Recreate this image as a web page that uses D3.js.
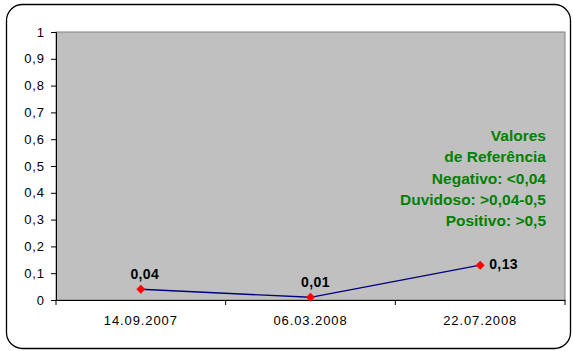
<!DOCTYPE html>
<html>
<head>
<meta charset="utf-8">
<script src="https://cdn.jsdelivr.net/npm/d3@7/dist/d3.min.js"></script>
<style>
  html, body { margin: 0; padding: 0; background: #fff; }
  svg { display: block; }
  text { font-family: "Liberation Sans", Arial, sans-serif; }
</style>
</head>
<body>
<svg id="chart" width="573" height="351"></svg>
<script>
// Test dates and measured values
const dates = ["14.09.2007", "06.03.2008", "22.07.2008"];
const values = [0.04, 0.01, 0.13];
const valueLabels = ["0,04", "0,01", "0,13"];

// Y axis ticks and their labels
const yTicks = [0, 0.1, 0.2, 0.3, 0.4, 0.5, 0.6, 0.7, 0.8, 0.9, 1];
const yTickLabels = ["0", "0,1", "0,2", "0,3", "0,4", "0,5", "0,6", "0,7", "0,8", "0,9", "1"];

// Reference ranges note
const refLines = ["Valores", "de Referência", "Negativo: <0,04", "Duvidoso: >0,04-0,5", "Positivo: >0,5"];

const svg = d3.select("#chart");
const plot = { left: 56, top: 32, right: 565, bottom: 300 };

// Outer rounded frame
svg.append("rect")
  .attr("x", 6.5).attr("y", 4.5)
  .attr("width", 564).attr("height", 344)
  .attr("rx", 16).attr("ry", 16)
  .attr("fill", "#fff")
  .attr("stroke", "#000")
  .attr("stroke-width", 1.3);

const x = d3.scaleBand().domain(dates).range([plot.left, plot.right]);
const y = d3.scaleLinear().domain([0, 1]).range([plot.bottom, plot.top]);

// Plot area
svg.append("rect")
  .attr("x", plot.left).attr("y", plot.top)
  .attr("width", plot.right - plot.left).attr("height", plot.bottom - plot.top)
  .attr("fill", "#c0c0c0")
  .attr("stroke", "#808080")
  .attr("stroke-width", 1);

// Y axis
const yAxis = d3.axisLeft(y)
  .tickValues(yTicks)
  .tickFormat((d, i) => yTickLabels[i])
  .tickSize(5)
  .tickPadding(6);
const gy = svg.append("g").attr("transform", `translate(${plot.left},0)`).call(yAxis);
gy.select(".domain").attr("stroke", "#000");
gy.selectAll(".tick line").attr("stroke", "#000");
gy.selectAll(".tick text")
  .attr("font-size", 13)
  .attr("letter-spacing", 0.9)
  .attr("fill", "#000");

// X axis with ticks at category boundaries
const xAxis = d3.axisBottom(x).tickSize(0).tickPadding(16);
const gx = svg.append("g").attr("transform", `translate(0,${plot.bottom})`).call(xAxis);
gx.select(".domain").attr("stroke", "#000");
gx.selectAll(".tick text")
  .attr("font-size", 13)
  .attr("letter-spacing", 0.9)
  .attr("fill", "#000");
const boundaries = dates.map(d => x(d)).concat([x(dates[dates.length - 1]) + x.bandwidth()]);
gx.selectAll(".boundary")
  .data(boundaries)
  .join("line")
  .attr("x1", d => d).attr("x2", d => d)
  .attr("y1", 0).attr("y2", 5)
  .attr("stroke", "#000");

const cx = d => x(d) + x.bandwidth() / 2;

// Series line
const line = d3.line()
  .x((d, i) => cx(dates[i]))
  .y(d => y(d));
svg.append("path")
  .datum(values)
  .attr("d", line)
  .attr("fill", "none")
  .attr("stroke", "#000080")
  .attr("stroke-width", 1.4);

// Diamond markers
svg.selectAll(".marker")
  .data(values)
  .join("path")
  .attr("d", d3.symbol().type(d3.symbolDiamond2).size(52))
  .attr("transform", (d, i) => `translate(${cx(dates[i])},${y(d)})`)
  .attr("fill", "#ff0000");

// Value labels
const labelPos = [
  { dx: 4, dy: -10, anchor: "middle" },
  { dx: 5, dy: -10, anchor: "middle" },
  { dx: 9, dy: 4, anchor: "start" }
];
svg.selectAll(".vlabel")
  .data(values)
  .join("text")
  .attr("x", (d, i) => cx(dates[i]) + labelPos[i].dx)
  .attr("y", (d, i) => y(d) + labelPos[i].dy)
  .attr("text-anchor", (d, i) => labelPos[i].anchor)
  .attr("font-size", 14)
  .attr("font-weight", "bold")
  .attr("letter-spacing", 0.4)
  .attr("fill", "#000")
  .text((d, i) => valueLabels[i]);

// Reference ranges note
svg.selectAll(".ref")
  .data(refLines)
  .join("text")
  .attr("x", 546)
  .attr("y", (d, i) => 141 + i * 21.3)
  .attr("text-anchor", "end")
  .attr("font-size", 15.5)
  .attr("font-weight", "bold")
  .attr("fill", "#008000")
  .text(d => d);
</script>
</body>
</html>
